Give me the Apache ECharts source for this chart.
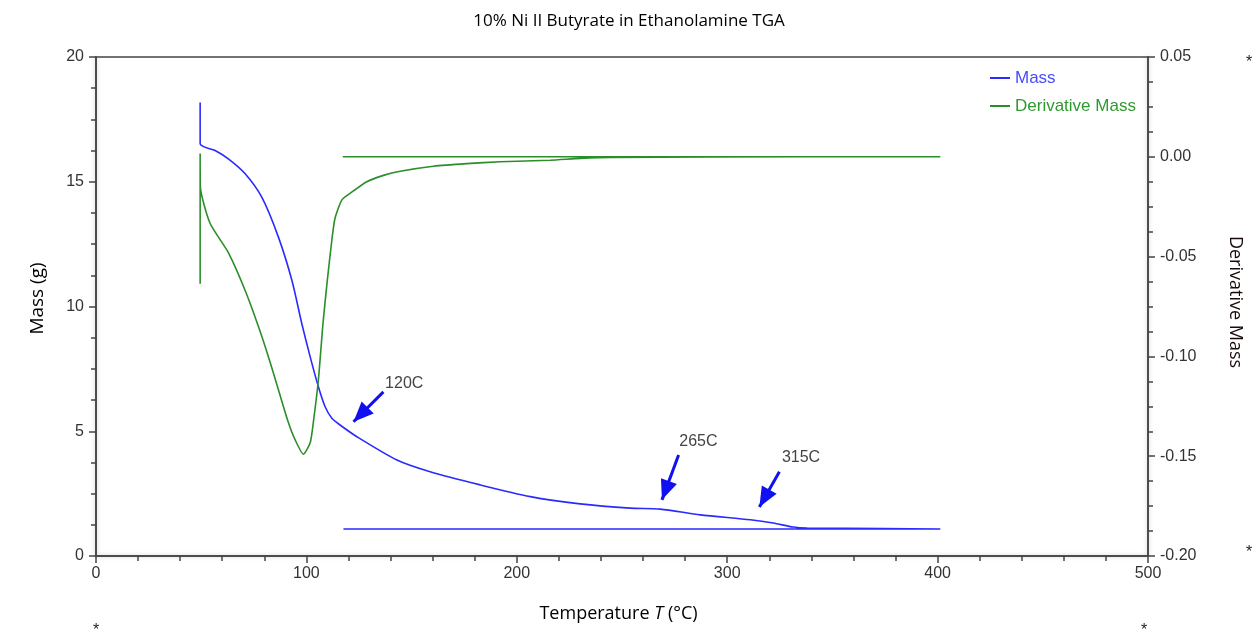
<!DOCTYPE html>
<html><head><meta charset="utf-8">
<script src="https://cdn.jsdelivr.net/npm/echarts@6/dist/echarts.min.js"></script>
<style>html,body{margin:0;padding:0;background:#fff}#c{width:1258px;height:635px}</style>
</head><body><div id="c"></div>
<script>
const massT = [49.5, 49.5, 56.6, 62.9, 70.9, 78.8, 86.7, 93.1, 97.8, 101.8, 105.7, 108.9, 112.1, 116.0, 124.0, 143.0, 158.8, 182.6, 206.4, 230.1, 253.9, 268.2, 287.2, 311.0, 321.9, 331.4, 337.9, 374.4, 401.3, 117.6];
const massV = [18.18, 16.52, 16.25, 15.92, 15.32, 14.38, 12.78, 11.05, 9.32, 7.98, 6.78, 5.98, 5.52, 5.25, 4.78, 3.85, 3.38, 2.85, 2.38, 2.09, 1.92, 1.88, 1.65, 1.45, 1.32, 1.16, 1.12, 1.10, 1.08, 1.08];
const derivT = [49.5, 49.5, 49.6, 54.2, 62.9, 70.8, 77.2, 81.9, 86.7, 91.4, 94.6, 98.6, 101.8, 103.3, 105.7, 107.9, 109.8, 112.1, 113.6, 116.8, 120.8, 128.7, 136.6, 144.6, 160.4, 176.2, 192.1, 215.9, 230.2, 245.0, 338.0, 401.3, 117.3];
const derivV = [-0.0636, 0.0017, -0.015, -0.0333, -0.048, -0.0667, -0.085, -0.1, -0.1167, -0.133, -0.1417, -0.149, -0.1433, -0.133, -0.1117, -0.0833, -0.0633, -0.0417, -0.0308, -0.0217, -0.0183, -0.0125, -0.0093, -0.0072, -0.0047, -0.0034, -0.0025, -0.0017, -0.0008, -0.0003, 0, 0, 0];
const annoLabels = ['120C', '265C', '315C'];
const annoTail = [[136.6, 6.58], [276.9, 4.05], [324.8, 3.38]];
const annoHead = [[122.4, 5.38], [269.0, 2.25], [315.3, 1.96]];
const annoText = [[137.4, 6.93], [277.2, 4.59], [326.0, 3.96]];

const tickFont = "'Liberation Sans', Arial, sans-serif";
const nameFont = "'Open Sans', sans-serif";
const chart = echarts.init(document.getElementById('c'), null, {renderer: 'canvas'});
const axisLine = {show: true, lineStyle: {color: '#444', width: 1.5, shadowColor: 'rgba(0,0,0,0.25)', shadowBlur: 4}};
const fmt2 = v => (Math.abs(v) < 1e-9 ? 0 : v).toFixed(2);
// triangle whose tip sits at the symbol centre
const arrowHead = 'path://M0,0 L7,16 L-7,16 Z M0,-16 L0,-16';

chart.setOption({
  animation: false,
  title: {text: '10% Ni II Butyrate in Ethanolamine TGA', left: 'center', top: 8,
    textStyle: {fontFamily: nameFont, fontSize: 17, fontWeight: 'normal', color: '#000'}},
  grid: {left: 96, right: 110, top: 57, bottom: 79, show: true, borderColor: '#444', borderWidth: 1.5, containLabel: false},
  legend: {orient: 'vertical', left: 985, top: 64, itemWidth: 20, itemHeight: 2, itemGap: 10, icon: 'rect',
    textStyle: {fontFamily: tickFont, fontSize: 17, lineHeight: 18},
    data: [{name: 'Mass', textStyle: {color: '#4a4aff'}}, {name: 'Derivative Mass', textStyle: {color: '#2f9a2f'}}]},
  xAxis: {type: 'value', min: 0, max: 500, interval: 100,
    name: '{a|Temperature }{i|T}{a| (°C)}', nameLocation: 'middle', nameGap: 49,
    nameTextStyle: {padding: [0, 7, 0, 0], rich: {a: {fontFamily: nameFont, fontSize: 18, color: '#000'}, i: {fontFamily: nameFont, fontSize: 18, fontStyle: 'italic', color: '#000'}}},
    axisLine: axisLine, axisTick: {show: true, length: 7, lineStyle: {color: '#444', width: 1.5}},
    minorTick: {show: true, splitNumber: 5, length: 5, lineStyle: {color: '#444', width: 1.5}},
    splitLine: {show: false},
    axisLabel: {fontFamily: tickFont, fontSize: 16, color: '#333', margin: 10}},
  yAxis: [
    {type: 'value', min: 0, max: 20, interval: 5, position: 'left',
      name: 'Mass (g)', nameLocation: 'middle', nameGap: 49, nameRotate: 90,
      nameTextStyle: {fontFamily: nameFont, fontSize: 19, color: '#000', padding: [0, 0, 0, 16]},
      axisLine: axisLine, axisTick: {show: true, length: 7, lineStyle: {color: '#444', width: 1.5}},
      minorTick: {show: true, splitNumber: 4, length: 5, lineStyle: {color: '#444', width: 1.5}},
      splitLine: {show: false},
      axisLabel: {fontFamily: tickFont, fontSize: 16, color: '#333', margin: 12}},
    {type: 'value', min: -0.2, max: 0.05, interval: 0.05, position: 'right', alignTicks: false,
      name: 'Derivative Mass', nameLocation: 'middle', nameGap: 78, nameRotate: -90,
      nameTextStyle: {fontFamily: nameFont, fontSize: 18, color: '#1a0a0a', padding: [0, 9, 0, 0]},
      axisLine: axisLine, axisTick: {show: true, length: 7, lineStyle: {color: '#444', width: 1.5}},
      minorTick: {show: true, splitNumber: 4, length: 5, lineStyle: {color: '#444', width: 1.5}},
      splitLine: {show: false},
      axisLabel: {fontFamily: tickFont, fontSize: 16, color: '#333', margin: 12, formatter: fmt2}}
  ],
  series: [
    {name: 'Mass', type: 'line', yAxisIndex: 0, showSymbol: false, symbol: 'none', smooth: 0.25,
      color: '#2a2aff', lineStyle: {width: 1.6, color: '#2a2aff'},
      data: massT.map((t, i) => [t, massV[i]]),
      markLine: {silent: true, symbol: ['none', arrowHead], symbolSize: [17, 40],
        lineStyle: {color: '#1010f0', width: 3, type: 'solid'}, label: {show: false},
        data: annoTail.map((t, i) => [{coord: t}, {coord: annoHead[i]}])},
      markPoint: {silent: true, symbol: 'circle', symbolSize: 0,
        label: {show: true, position: 'right', distance: 0, fontFamily: tickFont, fontSize: 16, color: '#444', formatter: p => p.name},
        data: annoText.map((c, i) => ({name: annoLabels[i], coord: c}))}
    },
    {name: 'Derivative Mass', type: 'line', yAxisIndex: 1, showSymbol: false, symbol: 'none', smooth: 0.2,
      color: '#2a8f2a', lineStyle: {width: 1.6, color: '#2a8f2a'},
      data: derivT.map((t, i) => [t, derivV[i]])}
  ],
  graphic: [
    {type: 'text', left: 1246, top: 55, style: {text: '*', fontSize: 16, fill: '#222', fontFamily: tickFont}},
    {type: 'text', left: 1246, top: 545, style: {text: '*', fontSize: 16, fill: '#222', fontFamily: tickFont}},
    {type: 'text', left: 93, top: 623, style: {text: '*', fontSize: 16, fill: '#222', fontFamily: tickFont}},
    {type: 'text', left: 1141, top: 623, style: {text: '*', fontSize: 16, fill: '#222', fontFamily: tickFont}}
  ]
});
</script></body></html>
